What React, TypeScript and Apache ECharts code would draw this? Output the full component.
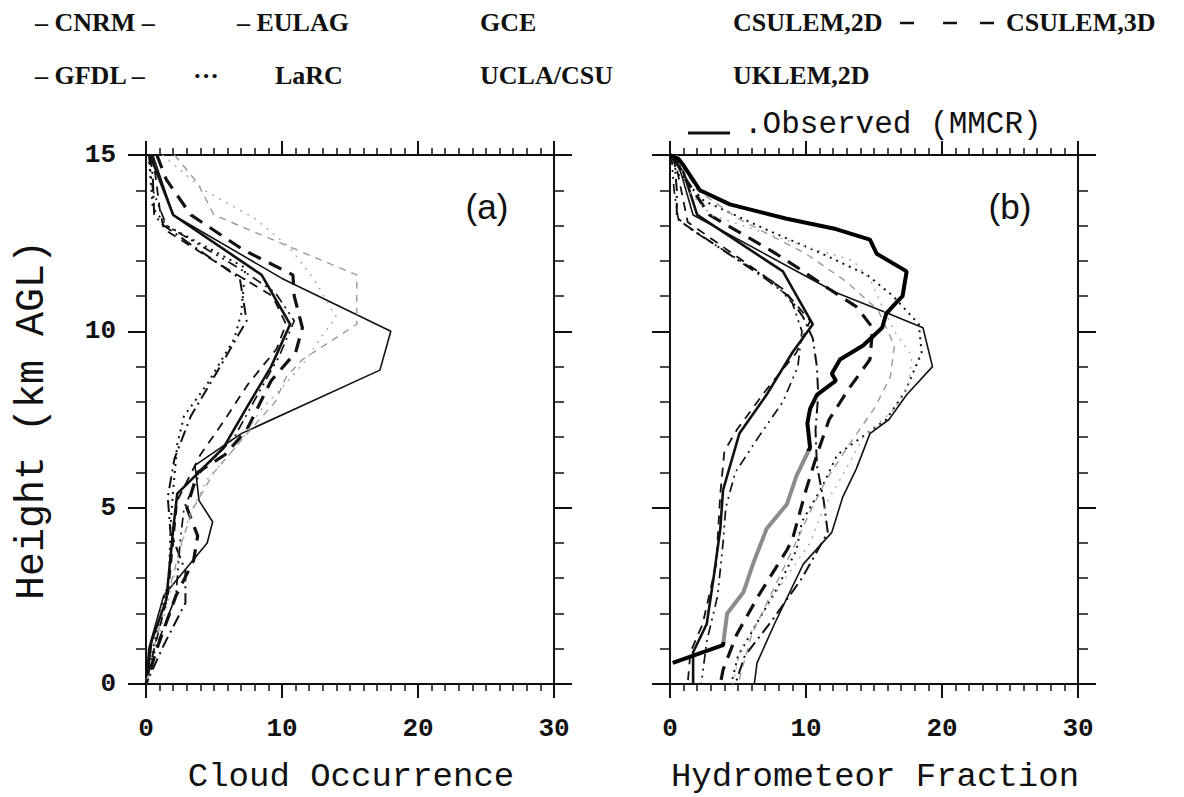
import React, { useEffect, useRef } from "react";
import * as echarts from "echarts";

// Axis ticks
const X_MIN = 0;
const X_MAX = 30;
const X_STEP = 10;
const Y_MIN = 0;
const Y_MAX = 15;
const Y_STEP = 5;

// Panel (a) Cloud Occurrence: [value, height (km AGL)]
const GCE_A: [number, number][] = [[0.5, 15], [2, 13.3], [10, 11.5], [18, 10], [17.2, 8.9], [7, 7.1], [3.6, 6.2], [3.9, 5.2], [4.9, 4.6], [4.5, 4], [1.3, 2.5], [0.2, 1], [0, 0]];
const CSULEM2D_A: [number, number][] = [[0.3, 15], [2, 13.3], [8.5, 11.6], [10.6, 10.2], [9.2, 9], [7.5, 7.9], [5.7, 6.7], [2.3, 5.4], [2, 4.4], [1.5, 2.4], [0.4, 1.2], [0, 0]];
const CSULEM3D_A: [number, number][] = [[0.8, 15], [1.5, 14.3], [3.3, 13.3], [7.2, 12.3], [10.8, 11.6], [10.9, 11], [11.5, 10.1], [11, 9.4], [9.2, 8.6], [7.4, 7.2], [5.8, 6.5], [3.8, 6], [3, 5], [3.8, 4.2], [3.5, 3.5], [2.2, 2.5], [0.8, 1], [0, 0]];
const GFDL_A: [number, number][] = [[0.3, 15], [0.5, 14.4], [0.6, 13.3], [1.3, 13], [6.9, 11.5], [7.4, 10.3], [5.3, 8.9], [3.3, 7.6], [2.1, 6.4], [1.6, 5.3], [1.8, 4.3], [2.9, 3.2], [2.9, 2.3], [1.3, 1.1], [0, 0]];
const LARC_A: [number, number][] = [[0.2, 15], [0.4, 14], [0.5, 13.5], [1.5, 13], [7.3, 11.8], [7, 10.5], [6.5, 9.8], [4.5, 8.5], [2.8, 7.6], [2.3, 6.8], [2, 5.5], [1.8, 4.5], [1.7, 3], [0.8, 1.5], [0, 0]];
const UKLEM2D_A: [number, number][] = [[2.1, 15], [3.8, 14.2], [5, 13.3], [13, 12], [15.5, 11.6], [15.5, 10.2], [13.5, 9.7], [11.5, 9.2], [10.3, 8.7], [9.5, 8], [7.2, 7], [5, 6], [3.5, 5], [2.6, 4], [1.6, 2.5], [0.7, 1.2], [0, 0]];
const UCLA_A: [number, number][] = [[1.2, 15], [4.3, 14], [8, 13.2], [10.5, 12.4], [12.3, 11.5], [14, 10.4], [12.8, 9.8], [11.8, 9.2], [10, 8.4], [8.5, 7.8], [6.8, 6.8], [4.5, 5.8], [3.2, 4.8], [2.4, 3.6], [1.4, 2], [0.5, 0.8], [0, 0]];
const CNRM_A: [number, number][] = [[0.2, 15], [0.5, 14], [1.5, 13], [6.8, 11.8], [9.5, 11.1], [10.9, 10.3], [9.8, 9.3], [8.2, 8.2], [6.5, 7], [4, 6], [2.8, 5], [2.5, 4], [2.2, 2.5], [0.7, 1], [0, 0]];
const EULAG_A: [number, number][] = [[0.5, 15], [1, 13.5], [1.3, 12.9], [5, 12], [9.3, 11], [10.3, 10.2], [9.6, 9.5], [7.5, 8.5], [5.8, 7.5], [4, 6.5], [2.3, 5.2], [2, 4], [1.6, 2.5], [0.6, 1], [0, 0]];

// Panel (b) Hydrometeor Fraction: [value, height (km AGL)]
const GCE_B: [number, number][] = [[0.2, 15], [0.8, 14.5], [1.7, 13.3], [12.2, 11.1], [16.1, 10.5], [18.6, 10.1], [19.3, 9], [17.4, 8.2], [16.1, 7.5], [14.7, 7.1], [13.7, 6.1], [12.7, 5.3], [11.9, 4.3], [9.8, 3.4], [7.8, 1.8], [6.4, 0.6], [6.2, 0]];
const CSULEM2D_B: [number, number][] = [[0, 15], [1, 14.5], [2, 13.3], [8.3, 11.7], [10.5, 10.2], [9, 9.4], [7.1, 8.2], [5.1, 7.1], [3.9, 5.5], [3.7, 4.4], [3.2, 3], [2.7, 1.7], [1.7, 0.9], [1.7, 0]];
const CSULEM3D_B: [number, number][] = [[0.3, 15], [1, 14.4], [2.9, 13.3], [5.6, 12.7], [7.8, 12.2], [9.8, 11.7], [11.7, 11.2], [13.7, 10.7], [14.9, 10.1], [14.7, 9.2], [13.2, 8.4], [11.7, 7.5], [10.8, 6.5], [10, 5.5], [9, 4.1], [8.6, 3.8], [6.5, 2.5], [4.9, 1.4], [3.9, 0.4], [3.7, 0]];
const EULAG_B: [number, number][] = [[0.3, 15], [1.3, 13.1], [8.3, 11.2], [10.3, 10.3], [9.3, 9.4], [7, 8.3], [4.9, 7.2], [4, 6.6], [3.7, 5.4], [3.4, 3.4], [2.4, 1.7], [1.5, 0.9], [1.3, 0]];
const GFDL_B: [number, number][] = [[0.3, 15], [0.5, 14], [0.5, 13.2], [1.2, 13], [7, 11.5], [8.7, 11], [9.8, 10.4], [10.5, 9.8], [10.8, 9], [10.9, 8.2], [10.7, 7.2], [10.8, 6.2], [11.3, 5.2], [11.6, 4.3], [9.7, 3], [7.5, 1.8], [5.5, 0.8], [4.8, 0]];
const UCLA_B: [number, number][] = [[0.5, 15], [1.3, 14], [3, 13.3], [10, 12.4], [13.5, 12], [14.8, 11.4], [15.5, 10.8], [16.5, 10], [17.8, 9.3], [17.5, 8.4], [16.5, 7.8], [14.2, 7], [12.8, 6], [11.3, 5], [10.3, 4], [8.5, 3], [6.8, 2], [5.2, 1], [4.6, 0]];
const LARC_B: [number, number][] = [[0, 15], [0.5, 14.5], [2.5, 13.7], [7, 12.9], [11.2, 12.2], [14.5, 11.6], [16.4, 11], [18.3, 10.2], [18.5, 9.4], [17.3, 8.3], [15.9, 7.5], [12.3, 6.5], [11.2, 5.6], [9.7, 4.6], [9.3, 3.8], [8, 2.8], [6.5, 1.8], [5, 0.8], [4.5, 0]];
const CNRM_B: [number, number][] = [[0.1, 15], [0.3, 14], [0.6, 13.2], [1.5, 12.9], [7.6, 11.4], [9, 10.8], [9.7, 10], [9.4, 9], [8.3, 8], [6.5, 7], [4.8, 6], [4.1, 5], [3.9, 4], [3.5, 2.5], [2.7, 1.2], [2.3, 0]];
const UKLEM2D_B: [number, number][] = [[0.4, 15], [2, 14], [5, 13.2], [10, 12.2], [13, 11.4], [15.3, 10.6], [16.5, 9.6], [16.2, 8.7], [15, 7.8], [13.2, 6.8], [11.5, 5.8], [10.2, 4.8], [9, 3.8], [7.5, 2.6], [6, 1.4], [5, 0]];
const OBSERVED_B: [number, number][] = [[0, 15], [0.6, 14.9], [1, 14.7], [2.2, 14], [4.4, 13.6], [8.5, 13.2], [12.2, 12.9], [14.7, 12.6], [15.2, 12.2], [17.4, 11.7], [17.1, 11], [16.6, 10.8], [15.9, 10.5], [15.6, 10.1], [14.2, 9.6], [12.5, 9.2], [11.9, 8.8], [12.2, 8.6], [10.8, 8.2], [10.3, 7.8], [10.1, 7.4], [10.3, 6.7], [9.3, 5.9], [8.6, 5.1], [7.1, 4.4], [6.1, 3.4], [5.4, 2.6], [4.2, 2], [3.9, 1.1], [0.2, 0.6]];

// Legend labels
const LEGEND_ROW1 = ["\u2013 CNRM \u2013", "\u2013 EULAG", "GCE", "CSULEM,2D", "CSULEM,3D"];
const LEGEND_ROW2 = ["\u2013 GFDL \u2013", "\u00b7\u00b7\u00b7", "LaRC", "UCLA/CSU", "UKLEM,2D"];
const OBS_LABEL = ".Observed (MMCR)";
const X_TITLES = ["Cloud Occurrence", "Hydrometeor Fraction"];
const Y_TITLE = "Height (km AGL)";
const PANEL_LABELS = ["(a)", "(b)"];

const INK = "#111";
const MONO = "'Liberation Mono', 'DejaVu Sans Mono', monospace";
const SERIF = "'Liberation Serif', 'DejaVu Serif', serif";

type Sty = { color: string; width: number; type: any };
const STYLES: Record<string, Sty> = {
  GCE: { color: INK, width: 1.6, type: "solid" },
  CSULEM2D: { color: INK, width: 2.6, type: "solid" },
  CSULEM3D: { color: INK, width: 3.2, type: [14, 9] },
  GFDL: { color: INK, width: 2, type: [12, 5, 2, 5] },
  LARC: { color: INK, width: 2, type: [2, 5] },
  UKLEM2D: { color: "#9a9a9a", width: 1.4, type: [7, 6] },
  UCLA: { color: "#a8a8a8", width: 1.4, type: [2, 6] },
  CNRM: { color: INK, width: 1.7, type: [10, 5, 2, 5, 2, 5] },
  EULAG: { color: INK, width: 1.8, type: [9, 7] },
};

function xAxes(grid: number) {
  const base = {
    gridIndex: grid,
    type: "value",
    min: X_MIN,
    max: X_MAX,
    interval: X_STEP,
    splitLine: { show: false },
    axisLine: { show: true, onZero: false, lineStyle: { color: INK, width: 2 } },
    axisTick: { show: true, inside: false, length: 14, lineStyle: { color: INK, width: 2 } },
    minorTick: { show: true, splitNumber: 10, length: 7, lineStyle: { color: INK, width: 1.5 } },
  };
  return [
    {
      ...base,
      position: "bottom",
      axisLabel: { show: true, fontFamily: MONO, fontWeight: "bold", fontSize: 26, color: INK, margin: 32 },
    },
    { ...base, position: "top", axisLabel: { show: false } },
  ];
}

function yAxes(grid: number, labels: boolean) {
  const base = {
    gridIndex: grid,
    type: "value",
    min: Y_MIN,
    max: Y_MAX,
    interval: Y_STEP,
    splitLine: { show: false },
    axisLine: { show: true, onZero: false, lineStyle: { color: INK, width: 2 } },
    axisTick: { show: true, inside: false, length: 18, lineStyle: { color: INK, width: 2 } },
    minorTick: { show: true, splitNumber: 5, length: 10, lineStyle: { color: INK, width: 1.5 } },
  };
  return [
    {
      ...base,
      position: "left",
      axisLabel: { show: labels, fontFamily: MONO, fontWeight: "bold", fontSize: 26, color: INK, margin: 30 },
    },
    { ...base, position: "right", axisLabel: { show: false } },
  ];
}

function line(name: string, data: [number, number][], grid: number, key: string) {
  const s = STYLES[key];
  return {
    name,
    type: "line",
    xAxisIndex: grid * 2,
    yAxisIndex: grid * 2,
    data,
    symbol: "none",
    lineStyle: { color: s.color, width: s.width, type: s.type },
    itemStyle: { color: s.color },
    z: 3,
  };
}

function text(t: string, x: number, y: number, font: string, align = "left", extra: any = {}) {
  return {
    type: "text",
    x,
    y,
    style: { text: t, font, fill: INK, align, verticalAlign: "middle" },
    ...extra,
  };
}

export default function App() {
  const ref = useRef<HTMLDivElement>(null);
  useEffect(() => {
    if (!ref.current) return;
    const chart = echarts.init(ref.current, null, { renderer: "svg" });
    const seriesA = [
      line("GCE", GCE_A, 0, "GCE"),
      line("CSULEM,2D", CSULEM2D_A, 0, "CSULEM2D"),
      line("CSULEM,3D", CSULEM3D_A, 0, "CSULEM3D"),
      line("GFDL", GFDL_A, 0, "GFDL"),
      line("LaRC", LARC_A, 0, "LARC"),
      line("UKLEM,2D", UKLEM2D_A, 0, "UKLEM2D"),
      line("UCLA/CSU", UCLA_A, 0, "UCLA"),
      line("CNRM", CNRM_A, 0, "CNRM"),
      line("EULAG", EULAG_A, 0, "EULAG"),
    ];
    const seriesB = [
      line("GCE", GCE_B, 1, "GCE"),
      line("CSULEM,2D", CSULEM2D_B, 1, "CSULEM2D"),
      line("CSULEM,3D", CSULEM3D_B, 1, "CSULEM3D"),
      line("GFDL", GFDL_B, 1, "GFDL"),
      line("LaRC", LARC_B, 1, "LARC"),
      line("UKLEM,2D", UKLEM2D_B, 1, "UKLEM2D"),
      line("UCLA/CSU", UCLA_B, 1, "UCLA"),
      line("CNRM", CNRM_B, 1, "CNRM"),
      line("EULAG", EULAG_B, 1, "EULAG"),
    ];
    const obs = {
      name: "Observed (MMCR)",
      type: "line",
      xAxisIndex: 2,
      yAxisIndex: 2,
      data: OBSERVED_B,
      symbol: "none",
      lineStyle: { width: 4, type: "solid" },
      z: 4,
    };
    const series = [...seriesA, ...seriesB, obs];
    const obsIndex = series.length - 1;

    const legendFont = `bold 26px ${SERIF}`;
    const row1X = [35, 237, 480, 733, 1006];
    const row2X = [35, 193, 275, 480, 733];
    const graphics: any[] = [];
    LEGEND_ROW1.forEach((t, i) => graphics.push(text(t, row1X[i], 22, legendFont)));
    LEGEND_ROW2.forEach((t, i) => graphics.push(text(t, row2X[i], 75, legendFont)));
    [900, 943, 980].forEach((x) =>
      graphics.push({
        type: "line",
        shape: { x1: x, y1: 23, x2: x + 14, y2: 23 },
        style: { stroke: INK, lineWidth: 2.5 },
      })
    );
    graphics.push({
      type: "line",
      shape: { x1: 688, y1: 133, x2: 730, y2: 133 },
      style: { stroke: INK, lineWidth: 3 },
    });
    graphics.push(text(OBS_LABEL, 744, 124, `31px ${MONO}`));
    graphics.push(text(X_TITLES[0], 351, 777, `34px ${MONO}`, "center"));
    graphics.push(text(X_TITLES[1], 875, 777, `34px ${MONO}`, "center"));
    graphics.push(text(Y_TITLE, 32, 420, `40px ${MONO}`, "center", { rotation: Math.PI / 2 }));
    graphics.push(text(PANEL_LABELS[0], 487, 206, `35px 'Liberation Sans', sans-serif`, "center"));
    graphics.push(text(PANEL_LABELS[1], 1010, 206, `35px 'Liberation Sans', sans-serif`, "center"));

    chart.setOption({
      animation: false,
      backgroundColor: "#fff",
      grid: [
        { left: 146, top: 155, width: 408, height: 529, containLabel: false },
        { left: 670, top: 155, width: 408, height: 529, containLabel: false },
      ],
      xAxis: [...xAxes(0), ...xAxes(1)],
      yAxis: [...yAxes(0, true), ...yAxes(1, false)],
      visualMap: [
        {
          type: "piecewise",
          show: false,
          seriesIndex: obsIndex,
          dimension: 1,
          pieces: [
            { lt: 1.2, color: "#000" },
            { gte: 1.2, lt: 6.6, color: "#8c8c8c" },
            { gte: 6.6, color: "#000" },
          ],
        },
      ],
      series,
      graphic: graphics,
    });
    return () => chart.dispose();
  }, []);
  return <div ref={ref} style={{ width: 1184, height: 797, position: "absolute", left: 0, top: 0 }} />;
}
